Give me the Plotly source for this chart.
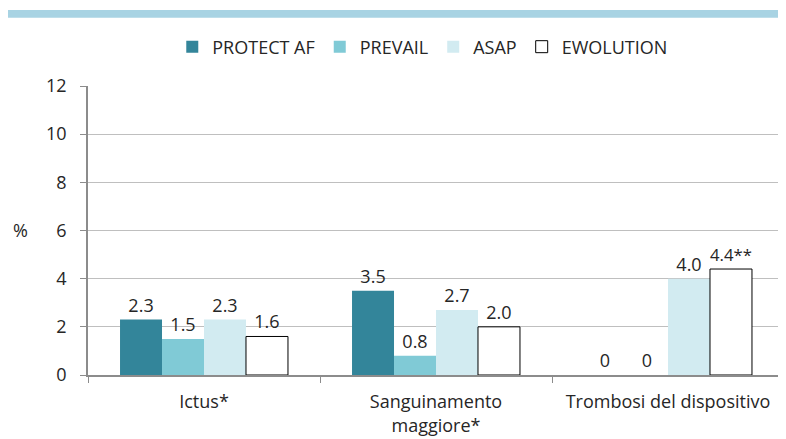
import plotly.graph_objects as go

categories = ["Ictus*", "Sanguinamento<br>maggiore*", "Trombosi del dispositivo"]
series_names = ["PROTECT AF", "PREVAIL", "ASAP", "EWOLUTION"]
protect_af = [2.3, 3.5, 0]
prevail = [1.5, 0.8, 0]
asap = [2.3, 2.7, 4.0]
ewolution = [1.6, 2.0, 4.4]
labels_protect = ["2.3", "3.5", "0"]
labels_prevail = ["1.5", "0.8", "0"]
labels_asap = ["2.3", "2.7", "4.0"]
labels_ewolution = ["1.6", "2.0", "4.4**"]
y_ticks = [0, 2, 4, 6, 8, 10, 12]

colors = ["#33859A", "#80CAD6", "#D2EBF1", "#FFFFFF"]
line_colors = ["#33859A", "#80CAD6", "#D2EBF1", "#000000"]
line_widths = [0, 0, 0, 1]

FONT = "Open Sans"
TXT = "#262626"

fig = go.Figure()
for name, vals, labs, c, lc, lw in zip(
    series_names,
    [protect_af, prevail, asap, ewolution],
    [labels_protect, labels_prevail, labels_asap, labels_ewolution],
    colors, line_colors, line_widths,
):
    fig.add_trace(go.Bar(
        name=name, x=categories, y=vals, text=labs,
        textposition="outside", cliponaxis=False,
        textfont=dict(family=FONT, size=18, color=TXT),
        marker=dict(color=c, line=dict(color=lc, width=lw)),
    ))

# page body has an 8px margin: the figure is sized/offset to compensate
fig.update_layout(
    width=778, height=431,
    margin=dict(l=80, r=2, t=78, b=64),
    paper_bgcolor="white", plot_bgcolor="white",
    barmode="group", bargap=0.276, bargroupgap=0,
    font=dict(family=FONT, size=18, color=TXT),
    legend=dict(
        orientation="h", x=0.481, xanchor="center", y=1.135, yanchor="middle",
        font=dict(family=FONT, size=18, color=TXT),
        itemwidth=30, traceorder="normal",
    ),
    shapes=[dict(
        type="rect", xref="paper", yref="paper",
        x0=-0.115, x1=1.003, y0=1.236, y1=1.263,
        fillcolor="#A8D3E3", line=dict(width=0),
    )],
    annotations=[dict(
        text="%", xref="paper", yref="paper", x=-0.0977, y=0.502,
        xanchor="center", yanchor="middle",
        showarrow=False, font=dict(family=FONT, size=18, color=TXT),
    )],
)
fig.update_xaxes(
    showline=True, linecolor="#8C8C8C", linewidth=1.5,
    ticks="outside", tickson="boundaries", ticklen=6, tickcolor="#8C8C8C",
    tickfont=dict(family=FONT, size=18, color=TXT),
    ticklabelstandoff=10, automargin=False,
)
fig.update_yaxes(
    range=[0, 12], tickvals=y_ticks,
    showline=True, linecolor="#8C8C8C", linewidth=1.5,
    ticks="outside", ticklen=6, tickcolor="#8C8C8C",
    showgrid=True, gridcolor="#BFBFBF", gridwidth=1, zeroline=False,
    tickfont=dict(family=FONT, size=18, color=TXT),
    ticklabelstandoff=10, automargin=False,
)

fig.write_html("out.html")
